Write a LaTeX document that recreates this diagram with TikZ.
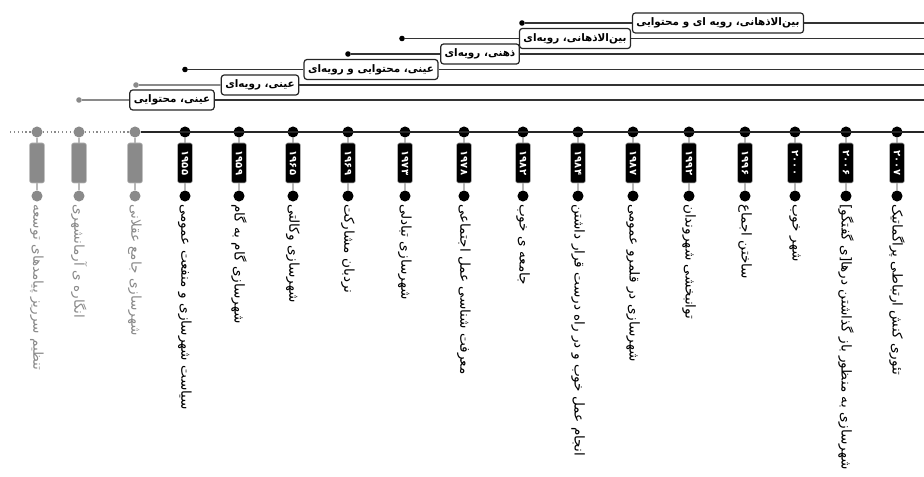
\documentclass[tikz,border=0pt]{standalone}
\usepackage{fontspec}
\TeXXeTstate=1
\newfontfamily\arabicfont[Script=Arabic]{DejaVu Sans}
\definecolor{dotgray}{HTML}{8A8A8A}
\definecolor{stemgray}{HTML}{B8B8B8}
\tikzset{
	bigdot/.style={circle, fill=black, inner sep=0pt, minimum size=8.3pt},
	greydot/.style={bigdot, fill=dotgray},
	yearbox/.style={rectangle, rounded corners=1.5pt, fill=black, draw=stemgray, line width=0.4pt, text=white, font=\arabicfont\bfseries\fontsize{7.5}{8}\selectfont, rotate=-90, minimum width=30pt, minimum height=11pt, inner sep=0pt},
	greybox/.style={yearbox, fill=dotgray},
	stem/.style={stemgray, line width=0.8pt},
	eventtext/.style={rotate=-90, anchor=west, inner sep=1.5pt, font=\arabicfont\fontsize{10.2}{11}\selectfont},
	greytext/.style={eventtext, text=dotgray},
	phasebox/.style={draw=black!85, fill=white, rounded corners=2.2pt, line width=0.9pt, minimum height=15pt, inner xsep=3pt, inner ysep=0pt, font=\arabicfont\bfseries\fontsize{7.8}{9}\selectfont},
	phaseline/.style={black!80, line width=1pt},
	greyline/.style={dotgray, line width=1pt},
	phasedot/.style={circle, fill=black, inner sep=0pt, minimum size=4.2pt}
}
\begin{document}
\begin{tikzpicture}[x=0.75pt, y=-0.75pt]
	\useasboundingbox (0,0) rectangle (924,477);
	% timeline
	\node[greydot] (a1) at (37,132) {};
	\node[greydot] (a2) at (79,132) {};
	\node[greydot] (a3) at (135,132) {};
	\node[bigdot] (a4) at (185,132) {};
	\node[bigdot] (a5) at (239,132) {};
	\node[bigdot] (a6) at (293,132) {};
	\node[bigdot] (a7) at (348,132) {};
	\node[bigdot] (a8) at (405,132) {};
	\node[bigdot] (a9) at (464,132) {};
	\node[bigdot] (a10) at (523,132) {};
	\node[bigdot] (a11) at (578,132) {};
	\node[bigdot] (a12) at (633,132) {};
	\node[bigdot] (a13) at (689,132) {};
	\node[bigdot] (a14) at (745,132) {};
	\node[bigdot] (a15) at (795,132) {};
	\node[bigdot] (a16) at (846,132) {};
	\node[bigdot] (a17) at (897,132) {};
	\coordinate (axstart) at (10,132);
	\coordinate (axend) at (924,132);
	\draw[dotgray, line width=0.9pt, dotted] (axstart) -- (a1);
	\draw[dotgray, line width=0.9pt, dotted] (a1) -- (a2);
	\draw[dotgray, line width=0.9pt, dotted] (a2) -- (a3);
	\draw[black!85, line width=1.1pt] (a3) -- (axend);
	\node[greydot] (b1) at (37,196) {};
	\node[greydot] (b2) at (79,196) {};
	\node[greydot] (b3) at (135,196) {};
	\node[bigdot] (b4) at (185,196) {};
	\node[bigdot] (b5) at (239,196) {};
	\node[bigdot] (b6) at (293,196) {};
	\node[bigdot] (b7) at (348,196) {};
	\node[bigdot] (b8) at (405,196) {};
	\node[bigdot] (b9) at (464,196) {};
	\node[bigdot] (b10) at (523,196) {};
	\node[bigdot] (b11) at (578,196) {};
	\node[bigdot] (b12) at (633,196) {};
	\node[bigdot] (b13) at (689,196) {};
	\node[bigdot] (b14) at (745,196) {};
	\node[bigdot] (b15) at (795,196) {};
	\node[bigdot] (b16) at (846,196) {};
	\node[bigdot] (b17) at (897,196) {};
	\draw[stem] (a1) -- (b1);
	\draw[stem] (a2) -- (b2);
	\draw[stem] (a3) -- (b3);
	\draw[stem] (a4) -- (b4);
	\draw[stem] (a5) -- (b5);
	\draw[stem] (a6) -- (b6);
	\draw[stem] (a7) -- (b7);
	\draw[stem] (a8) -- (b8);
	\draw[stem] (a9) -- (b9);
	\draw[stem] (a10) -- (b10);
	\draw[stem] (a11) -- (b11);
	\draw[stem] (a12) -- (b12);
	\draw[stem] (a13) -- (b13);
	\draw[stem] (a14) -- (b14);
	\draw[stem] (a15) -- (b15);
	\draw[stem] (a16) -- (b16);
	\draw[stem] (a17) -- (b17);
	% years
	\node[greybox] (y1) at (37,163) {};
	\node[greybox] (y2) at (79,163) {};
	\node[greybox] (y3) at (135,163) {};
	\node[yearbox] (y4) at (185,163) {۱۹۵۵};
	\node[yearbox] (y5) at (239,163) {۱۹۵۹};
	\node[yearbox] (y6) at (293,163) {۱۹۶۵};
	\node[yearbox] (y7) at (348,163) {۱۹۶۹};
	\node[yearbox] (y8) at (405,163) {۱۹۷۳};
	\node[yearbox] (y9) at (464,163) {۱۹۷۸};
	\node[yearbox] (y10) at (523,163) {۱۹۸۲};
	\node[yearbox] (y11) at (578,163) {۱۹۸۴};
	\node[yearbox] (y12) at (633,163) {۱۹۸۷};
	\node[yearbox] (y13) at (689,163) {۱۹۹۲};
	\node[yearbox] (y14) at (745,163) {۱۹۹۶};
	\node[yearbox] (y15) at (795,163) {۲۰۰۰};
	\node[yearbox] (y16) at (846,163) {۲۰۰۶};
	\node[yearbox] (y17) at (897,163) {۲۰۰۷};
	% events
	\node[greytext] (l1) at (b1.south) {\beginR تنظیم سرریز پیامدهای توسعه\endR};
	\node[greytext] (l2) at (b2.south) {\beginR انگاره ی آرمانشهری\endR};
	\node[greytext] (l3) at (b3.south) {\beginR شهرسازی جامع عقلانی\endR};
	\node[eventtext] (l4) at (b4.south) {\beginR سیاست شهرسازی و منفعت عمومی\endR};
	\node[eventtext] (l5) at (b5.south) {\beginR شهرسازی گام به گام\endR};
	\node[eventtext] (l6) at (b6.south) {\beginR شهرسازی وکالتی\endR};
	\node[eventtext] (l7) at (b7.south) {\beginR نردبان مشارکت\endR};
	\node[eventtext] (l8) at (b8.south) {\beginR شهرسازی تبادلی\endR};
	\node[eventtext] (l9) at (b9.south) {\beginR معرفت شناسی عمل اجتماعی\endR};
	\node[eventtext] (l10) at (b10.south) {\beginR جامعه ی خوب\endR};
	\node[eventtext] (l11) at (b11.south) {\beginR انجام عمل خوب و در راه درست قرار داشتن\endR};
	\node[eventtext] (l12) at (b12.south) {\beginR شهرسازی در قلمرو عمومی\endR};
	\node[eventtext] (l13) at (b13.south) {\beginR توانبخشی شهروندان\endR};
	\node[eventtext] (l14) at (b14.south) {\beginR ساختن اجماع\endR};
	\node[eventtext] (l15) at (b15.south) {\beginR شهر خوب\endR};
	\node[eventtext] (l16) at (b16.south) {\beginR شهرسازی به منظور باز گذاشتن درها[ی گفتگو]\endR};
	\node[eventtext] (l17) at (b17.south) {\beginR تئوری کنش ارتباطی پراگماتیک\endR};
	% paradigms
	\node[phasedot] (p1) at (522,23) {};
	\node[phasedot] (p2) at (402,38.5) {};
	\node[phasedot] (p3) at (348,54) {};
	\node[phasedot] (p4) at (185,69.5) {};
	\node[phasedot, fill=dotgray] (p5) at (136,85) {};
	\node[phasedot, fill=dotgray] (p6) at (79,100) {};
	\node[phasebox] (q1) at (718,23) {\beginR بین‌الاذهانی، رویه ای و محتوایی\endR};
	\node[phasebox] (q2) at (575,38.5) {\beginR بین‌الاذهانی، رویه‌ای\endR};
	\node[phasebox] (q3) at (480,54) {\beginR ذهنی، رویه‌ای\endR};
	\node[phasebox] (q4) at (371,69.5) {\beginR عینی، محتوایی و رویه‌ای\endR};
	\node[phasebox] (q5) at (260,85) {\beginR عینی، رویه‌ای\endR};
	\node[phasebox] (q6) at (172,100) {\beginR عینی، محتوایی\endR};
	\coordinate (e1) at (924,23);
	\coordinate (e2) at (924,38.5);
	\coordinate (e3) at (924,54);
	\coordinate (e4) at (924,69.5);
	\coordinate (e5) at (924,85);
	\coordinate (e6) at (924,100);
	\draw[phaseline] (p1) -- (q1);
	\draw[phaseline] (p2) -- (q2);
	\draw[phaseline] (p3) -- (q3);
	\draw[phaseline] (p4) -- (q4);
	\draw[greyline] (p5) -- (q5);
	\draw[greyline] (p6) -- (q6);
	\draw[phaseline] (q1) -- (e1);
	\draw[phaseline] (q2) -- (e2);
	\draw[phaseline] (q3) -- (e3);
	\draw[phaseline] (q4) -- (e4);
	\draw[phaseline, line width=1.3pt] (q5) -- (e5);
	\draw[phaseline] (q6) -- (e6);
\end{tikzpicture}
\end{document}
